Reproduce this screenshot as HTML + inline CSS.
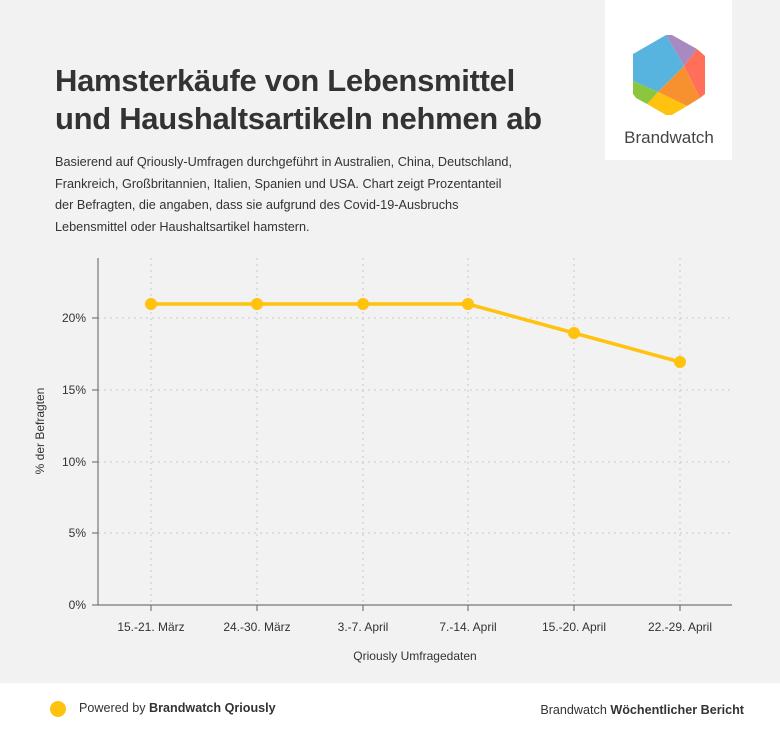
<!DOCTYPE html>
<html><head><meta charset="utf-8"><style>
body{margin:0;width:780px;height:738px;background:#f2f2f2;font-family:"Liberation Sans",sans-serif;position:relative;overflow:hidden}
.t{position:absolute;left:55px;top:62px;font-size:31px;font-weight:bold;color:#333;line-height:38px;letter-spacing:-0.3px}
.s{position:absolute;left:55px;top:152px;font-size:12.7px;color:#333;line-height:21.5px}
.logo{position:absolute;left:605px;top:0;width:127px;height:160px;background:#fff}
.foot{position:absolute;left:0;top:683px;width:780px;height:55px;background:#fff;font-size:12.6px;color:#333}
</style></head><body>
<div class="t">Hamsterkäufe von Lebensmittel<br>und Haushaltsartikeln nehmen ab</div>
<div class="s">Basierend auf Qriously-Umfragen durchgeführt in Australien, China, Deutschland,<br>Frankreich, Großbritannien, Italien, Spanien und USA. Chart zeigt Prozentanteil<br>der Befragten, die angaben, dass sie aufgrund des Covid-19-Ausbruchs<br>Lebensmittel oder Haushaltsartikel hamstern.</div>
<div class="logo"></div>
<svg width="780" height="738" style="position:absolute;left:0;top:0" font-family="Liberation Sans, sans-serif">
<polygon points="633,54 666,35 684,66 658,92 633,81" fill="#56b4de"/>
<polygon points="666,35 672,35 697,49 684,66" fill="#a78bc0"/>
<polygon points="697,49 705,56 705,94 700,98 684,66" fill="#ff6f5a"/>
<polygon points="684,66 700,98 687,106 658,92" fill="#f7912f"/>
<polygon points="658,92 687,106 672,115 666,115 647,104" fill="#ffc20e"/>
<polygon points="633,81 658,92 647,104 636,98 633,94" fill="#8cc63e"/>
<text x="669" y="143" font-size="17" fill="#444" text-anchor="middle">Brandwatch</text>
<g stroke="#c8c8c8" stroke-dasharray="2,4" stroke-width="1">
<line x1="98" y1="318" x2="732" y2="318"/><line x1="98" y1="390" x2="732" y2="390"/><line x1="98" y1="462" x2="732" y2="462"/><line x1="98" y1="533" x2="732" y2="533"/>
<line x1="151" y1="258" x2="151" y2="605"/><line x1="257" y1="258" x2="257" y2="605"/><line x1="363" y1="258" x2="363" y2="605"/><line x1="468" y1="258" x2="468" y2="605"/><line x1="574" y1="258" x2="574" y2="605"/><line x1="680" y1="258" x2="680" y2="605"/>
</g>
<g stroke="#777" stroke-width="1.2">
<line x1="98" y1="258" x2="98" y2="605"/><line x1="98" y1="605" x2="732" y2="605"/>
<line x1="92" y1="318" x2="98" y2="318"/><line x1="92" y1="390" x2="98" y2="390"/><line x1="92" y1="462" x2="98" y2="462"/><line x1="92" y1="533" x2="98" y2="533"/><line x1="92" y1="605" x2="98" y2="605"/>
<line x1="151" y1="605" x2="151" y2="611"/><line x1="257" y1="605" x2="257" y2="611"/><line x1="363" y1="605" x2="363" y2="611"/><line x1="468" y1="605" x2="468" y2="611"/><line x1="574" y1="605" x2="574" y2="611"/><line x1="680" y1="605" x2="680" y2="611"/>
</g>
<g font-size="12" fill="#333" text-anchor="end">
<text x="86" y="322">20%</text><text x="86" y="394">15%</text><text x="86" y="466">10%</text><text x="86" y="537">5%</text><text x="86" y="609">0%</text>
</g>
<g font-size="12" fill="#333" text-anchor="middle">
<text x="151" y="631">15.-21. März</text><text x="257" y="631">24.-30. März</text><text x="363" y="631">3.-7. April</text><text x="468" y="631">7.-14. April</text><text x="574" y="631">15.-20. April</text><text x="680" y="631">22.-29. April</text>
<text x="415" y="660">Qriously Umfragedaten</text>
<text transform="translate(44,431) rotate(-90)">% der Befragten</text>
</g>
<polyline points="151,304 257,304 363,304 468,304 574,333 680,362" fill="none" stroke="#ffc20e" stroke-width="3.5"/>
<g fill="#ffc20e"><circle cx="151" cy="304" r="6"/><circle cx="257" cy="304" r="6"/><circle cx="363" cy="304" r="6"/><circle cx="468" cy="304" r="6"/><circle cx="574" cy="333" r="6"/><circle cx="680" cy="362" r="6"/></g>
</svg>
<div class="foot">
<svg width="20" height="20" style="position:absolute;left:48px;top:16px"><circle cx="10" cy="10" r="8" fill="#ffc20e"/></svg>
<div style="position:absolute;left:79px;top:18px">Powered by <b>Brandwatch Qriously</b></div>
<div style="position:absolute;right:36px;top:20px">Brandwatch <b>Wöchentlicher Bericht</b></div>
</div>
</body></html>
